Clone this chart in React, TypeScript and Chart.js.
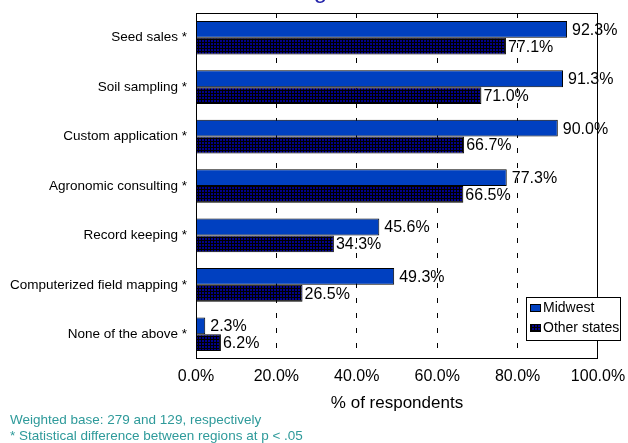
import React, { useEffect, useRef } from 'react';
import { Chart, registerables } from 'chart.js';

Chart.register(...registerables);

const categories = [
  'Seed sales *',
  'Soil sampling *',
  'Custom application *',
  'Agronomic consulting *',
  'Record keeping *',
  'Computerized field mapping *',
  'None of the above *',
];
const midwest = [92.3, 91.3, 90.0, 77.3, 45.6, 49.3, 2.3];
const otherStates = [77.1, 71.0, 66.7, 66.5, 34.3, 26.5, 6.2];
const xTicks = [0, 20, 40, 60, 80, 100];
const seriesNames = ['Midwest', 'Other states'];
const axisTitle = '% of respondents';
const titleText = 'Region';
const footnotes = [
  'Weighted base: 279 and 129, respectively',
  '* Statistical difference between regions at p < .05',
];

const FAMILY = "Arial, 'Liberation Sans', sans-serif";
const BLUE = '#0040C0';

function makePattern(): CanvasPattern | string {
  const c = document.createElement('canvas');
  c.width = 3;
  c.height = 3;
  const g = c.getContext('2d');
  if (!g) return '#000080';
  g.fillStyle = '#00008C';
  g.fillRect(0, 0, 3, 3);
  g.fillStyle = '#000000';
  g.fillRect(0, 0, 3, 1);
  g.fillRect(0, 0, 1, 3);
  return g.createPattern(c, 'repeat') || '#000080';
}

export default function App() {
  const ref = useRef<HTMLCanvasElement | null>(null);

  useEffect(() => {
    if (!ref.current) return;
    const pattern = makePattern();

    const frameAndLabels = {
      id: 'frameAndLabels',
      afterDatasetsDraw(chart: any) {
        const { ctx, chartArea } = chart;
        ctx.save();
        ctx.strokeStyle = '#000';
        ctx.lineWidth = 1;
        ctx.strokeRect(
          Math.round(chartArea.left) + 0.5,
          Math.round(chartArea.top) + 0.5,
          Math.round(chartArea.right - chartArea.left) - 1,
          Math.round(chartArea.bottom - chartArea.top) - 1
        );
        ctx.font = `16px ${FAMILY}`;
        ctx.fillStyle = '#000';
        ctx.textBaseline = 'middle';
        ctx.textAlign = 'left';
        chart.data.datasets.forEach((ds: any, i: number) => {
          const meta = chart.getDatasetMeta(i);
          meta.data.forEach((el: any, j: number) => {
            const v = Number(ds.data[j]);
            ctx.fillText(v.toFixed(1) + '%', el.x + (i === 0 ? 5 : 2), el.y + 1);
          });
        });
        ctx.restore();
      },
      afterDraw(chart: any) {
        const { ctx, chartArea } = chart;
        const left = chartArea.right - 72;
        const top = chartArea.bottom - 62;
        const w = 95;
        const h = 44;
        ctx.save();
        ctx.fillStyle = '#fff';
        ctx.fillRect(left, top, w, h);
        ctx.strokeStyle = '#000';
        ctx.lineWidth = 1;
        ctx.strokeRect(Math.round(left) + 0.5, Math.round(top) + 0.5, w - 1, h - 1);
        const fills = [BLUE, pattern];
        ctx.font = `14px ${FAMILY}`;
        ctx.textBaseline = 'middle';
        ctx.textAlign = 'left';
        seriesNames.forEach((name, i) => {
          const cy = top + 11 + i * 20;
          ctx.fillStyle = fills[i] as any;
          ctx.fillRect(left + 4, cy - 4, 11, 8);
          ctx.strokeStyle = '#000';
          ctx.strokeRect(Math.round(left + 4) + 0.5, Math.round(cy - 4) + 0.5, 10, 7);
          ctx.fillStyle = '#000';
          ctx.fillText(name, left + 17, cy);
        });
        ctx.restore();
      },
    };

    const chart = new Chart(ref.current, {
      type: 'bar',
      data: {
        labels: categories,
        datasets: [
          {
            label: seriesNames[0],
            data: midwest,
            backgroundColor: BLUE,
            borderColor: '#000',
            borderWidth: 1,
            categoryPercentage: 0.68,
            barPercentage: 1,
          },
          {
            label: seriesNames[1],
            data: otherStates,
            backgroundColor: pattern as any,
            borderColor: '#000',
            borderWidth: 1,
            categoryPercentage: 0.68,
            barPercentage: 1,
          },
        ],
      },
      options: {
        indexAxis: 'y',
        responsive: false,
        animation: false,
        events: [],
        layout: { padding: { top: 13, right: 30, bottom: 25, left: 0 } },
        plugins: {
          legend: { display: false },
          tooltip: { enabled: false },
          title: { display: false },
        },
        scales: {
          x: {
            min: 0,
            max: 100,
            afterBuildTicks: (s: any) => {
              s.ticks = xTicks.map((v) => ({ value: v }));
            },
            afterFit: (s: any) => {
              s.height = 59;
              s.paddingLeft = 0;
              s.paddingRight = 0;
            },
            ticks: {
              callback: (v: any) => Number(v).toFixed(1) + '%',
              color: '#000',
              font: { family: FAMILY, size: 16 },
              padding: 8,
              maxRotation: 0,
            },
            grid: {
              color: (c: any) =>
                c.tick && (c.tick.value === 0 || c.tick.value === 100) ? 'rgba(0,0,0,0)' : '#000',
              drawTicks: false,
              lineWidth: 1,
            },
            border: { display: false, dash: [5, 10] },
            title: {
              display: true,
              text: axisTitle,
              color: '#000',
              font: { family: FAMILY, size: 17 },
              padding: { top: 4, bottom: 4 },
            },
          },
          y: {
            afterFit: (s: any) => {
              s.width = 196;
              s.paddingTop = 0;
              s.paddingBottom = 0;
            },
            grid: { display: false, drawTicks: false },
            border: { display: false },
            ticks: {
              color: '#000',
              font: { family: FAMILY, size: 13.5 },
              padding: 9,
            },
          },
        },
      },
      plugins: [frameAndLabels],
    } as any);

    return () => chart.destroy();
  }, []);

  return (
    <div style={{ position: 'absolute', left: 0, top: 0, width: 628, height: 443, overflow: 'hidden', background: '#fff' }}>
      <canvas ref={ref} width={628} height={443} style={{ display: 'block', width: 628, height: 443 }} />
      <div
        style={{
          position: 'absolute',
          left: 221,
          width: 200,
          top: -22,
          textAlign: 'center',
          fontFamily: FAMILY,
          fontSize: 24,
          lineHeight: '24px',
          color: '#2222AA',
        }}
      >
        {titleText}
      </div>
      {footnotes.map((t, i) => (
        <div
          key={i}
          style={{
            position: 'absolute',
            left: 10,
            top: 412 + i * 16,
            fontFamily: FAMILY,
            fontSize: 13.5,
            lineHeight: '16px',
            color: '#2E9A9A',
            whiteSpace: 'nowrap',
          }}
        >
          {t}
        </div>
      ))}
    </div>
  );
}
